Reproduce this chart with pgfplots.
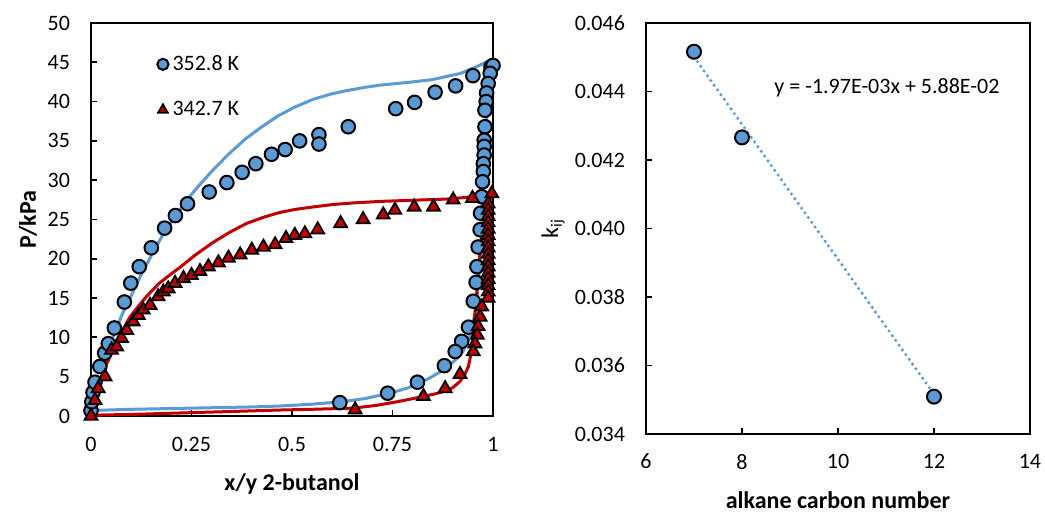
\documentclass[border=0pt]{standalone}
\usepackage{fontspec}
\setmainfont{Carlito}
\usepackage{pgfplots}
\pgfplotsset{compat=1.18}
\definecolor{xlblue}{HTML}{5B9BD5}
\definecolor{xlred}{HTML}{C00000}
\newcommand\fs{\fontsize{11}{13}\selectfont}
\newcommand\fl{\fontsize{12}{14}\selectfont}
\pgfplotsset{
  myaxis/.style={
    scale only axis,
    axis line style={line width=0.9pt},
    tick style={line width=0.9pt, black},
    major tick length=3pt,
    tick align=inside,
    xtick pos=bottom, ytick pos=left,
    tick label style={font=\fs},
    label style={font=\fl},
    clip=false,
  }
}
\begin{document}
\begin{tikzpicture}
\path[use as bounding box] (0,0) rectangle (522.5pt,261.5pt);
% ---------------- left panel ----------------
\begin{axis}[myaxis,
  at={(45.5pt,53.5pt)}, anchor=south west,
  width=201pt, height=196.5pt,
  xmin=0, xmax=1, ymin=0, ymax=50,
  xtick={0,0.25,0.5,0.75,1}, xticklabels={0,0.25,0.5,0.75,1},
  ytick={0,5,10,15,20,25,30,35,40,45,50},
  yticklabels={0,5,10,15,20,25,30,35,40,45,50},
  xticklabel style={yshift=-7pt},
  yticklabel style={xshift=-7pt},
  xlabel={\bfseries x/y 2-butanol},
  ylabel={\bfseries P/kPa},
  xlabel style={at={(axis description cs:0.5,-0.173)}, anchor=center},
  ylabel style={at={(axis description cs:-0.157,0.5)}, anchor=center},
  legend style={at={(axis description cs:0.164,0.929)}, anchor=north west,
    draw=none, fill=none, font=\fs, row sep=10pt, inner sep=0pt,
    nodes={inner sep=2pt}},
  legend cell align=left,
  legend image code/.code={\draw[#1, mark size=2.8pt] plot coordinates {(0.12cm,0cm)};},
]
% model lines (blue, 352.8 K)
\addplot[xlblue, line width=1.5pt, forget plot] coordinates {
(0,0.7) (0.1,0.85) (0.2,0.95) (0.3,1.05) (0.4,1.15) (0.47,1.27) (0.55,1.5)
(0.62,1.8) (0.68,2.2) (0.744,2.9) (0.79,3.6) (0.818,4.2) (0.845,4.9)
(0.868,5.6) (0.89,6.4) (0.91,7.3) (0.925,8.2) (0.935,9.2) (0.947,10.9)
(0.955,13) (0.962,16) (0.968,20) (0.973,25) (0.977,30) (0.981,35)
(0.985,39) (0.99,42.5) (0.995,44.5) (1,45.5)};
\addplot[xlblue, line width=1.5pt, forget plot] coordinates {
(0,0.7) (0.01,2.3) (0.02,4.0) (0.035,6.8) (0.055,10.1) (0.078,13.0)
(0.101,15.4) (0.125,18.0) (0.151,20.5) (0.176,22.8) (0.209,25.4)
(0.242,27.7) (0.27,29.4) (0.3,31.1) (0.342,33.3) (0.383,35.2)
(0.425,36.8) (0.466,38.2) (0.507,39.3) (0.553,40.3) (0.6,41.0)
(0.636,41.4) (0.68,41.8) (0.72,42.1) (0.76,42.3) (0.8,42.5) (0.85,42.8)
(0.885,43.2) (0.92,43.6) (0.943,44.1) (0.97,44.7) (0.993,45.3) (1,45.5)};
% model lines (red, 342.7 K)
\addplot[xlred, line width=1.5pt, forget plot] coordinates {
(0,0.1) (0.1,0.2) (0.2,0.35) (0.3,0.5) (0.4,0.65) (0.47,0.76) (0.55,0.85)
(0.652,1.0) (0.71,1.35) (0.76,1.8) (0.8,2.2) (0.827,2.5) (0.855,2.8)
(0.876,3.1) (0.9,3.6) (0.918,4.4) (0.93,5.3) (0.939,6.3) (0.947,8.4)
(0.951,10.9) (0.957,14) (0.963,18) (0.968,21) (0.975,24) (0.982,26)
(0.99,27.3) (1,28.3)};
\addplot[xlred, line width=1.5pt, forget plot] coordinates {
(0,0.1) (0.01,1.8) (0.022,4.2) (0.035,6.2) (0.055,8.4) (0.075,10.6)
(0.097,12.6) (0.12,14.1) (0.138,15.2) (0.17,16.9) (0.2,18.1) (0.221,18.9)
(0.26,20.5) (0.304,22.1) (0.346,23.4) (0.387,24.5) (0.43,25.3) (0.47,25.9)
(0.51,26.3) (0.553,26.6) (0.6,26.9) (0.65,27.1) (0.719,27.3) (0.8,27.45)
(0.885,27.6) (0.93,27.8) (0.968,28.0) (1.0,28.3)};
% experimental 352.8 K
\addplot[only marks, mark=*, mark size=3.4pt,
  mark options={fill=xlblue, draw=black, line width=1pt}] coordinates {
(0.000,0.7) (0.002,1.8) (0.005,3.0) (0.010,4.3) (0.022,6.3) (0.034,8.0)
(0.043,9.2) (0.058,11.2) (0.083,14.5) (0.099,16.9) (0.120,19.0)
(0.150,21.4) (0.183,23.9) (0.210,25.5) (0.240,27.0) (0.294,28.5)
(0.338,29.7) (0.376,31.0) (0.410,32.1) (0.449,33.3) (0.483,33.9)
(0.519,35.0) (0.567,35.8) (0.567,34.6) (0.640,36.8) (0.758,39.1)
(0.805,39.9) (0.856,41.2) (0.907,42.0) (0.950,43.3) (0.995,44.4)
(1.000,44.6) (0.993,43.6) (0.988,42.3) (0.984,41.1) (0.983,40.0)
(0.980,38.9) (0.980,36.8) (0.978,35.1) (0.978,34.3) (0.978,33.2)
(0.976,32.1) (0.976,31.1) (0.974,29.8) (0.972,27.9) (0.969,25.8)
(0.968,23.7) (0.963,21.5) (0.960,19.0) (0.958,17.0) (0.951,14.6)
(0.939,11.3) (0.922,9.5) (0.906,8.2) (0.879,6.4) (0.812,4.3)
(0.738,2.9) (0.619,1.7)};
\addlegendentry{352.8 K}
% experimental 342.7 K
\addplot[only marks, mark=triangle*, mark size=3.7pt,
  mark options={fill=xlred, draw=black, line width=0.9pt}] coordinates {
(0.000,0.0) (0.010,2.0) (0.018,3.5) (0.035,5.0) (0.051,8.4) (0.064,8.8)
(0.076,9.9) (0.089,10.9) (0.105,12.0) (0.118,12.8) (0.130,13.5)
(0.147,14.1) (0.167,15.2) (0.180,15.8) (0.192,16.2) (0.209,16.9)
(0.230,17.5) (0.250,17.9) (0.271,18.4) (0.292,19.0) (0.317,19.5)
(0.342,20.1) (0.371,20.5) (0.400,21.1) (0.429,21.5) (0.458,21.8)
(0.485,22.6) (0.507,23.0) (0.532,23.2) (0.564,23.7) (0.621,24.5)
(0.677,25.0) (0.727,25.6) (0.756,26.2) (0.804,26.6) (0.852,26.6)
(0.901,27.5) (0.949,27.7) (0.997,28.3)
(0.988,27.0) (0.988,26.2) (0.988,25.4) (0.988,24.6) (0.988,23.8)
(0.988,23.0) (0.988,22.2) (0.988,21.4) (0.988,20.6) (0.988,19.8)
(0.988,19.0) (0.988,18.2) (0.988,17.4) (0.988,16.6) (0.988,15.8)
(0.988,15.0) (0.972,13.9) (0.968,12.6) (0.963,11.4) (0.961,10.3)
(0.955,9.2) (0.951,8.2) (0.918,5.3) (0.881,3.5) (0.827,2.5) (0.657,0.8)};
\addlegendentry{342.7 K}
\end{axis}
% ---------------- right panel ----------------
\begin{axis}[myaxis,
  at={(323pt,44.5pt)}, anchor=south west,
  width=192pt, height=205.5pt,
  xmin=6, xmax=14, ymin=0.034, ymax=0.046,
  xtick={6,8,10,12,14}, xticklabels={6,8,10,12,14},
  ytick={0.034,0.036,0.038,0.040,0.042,0.044,0.046},
  yticklabels={0.034,0.036,0.038,0.040,0.042,0.044,0.046},
  scaled y ticks=false,
  xticklabel style={yshift=-6.5pt},
  yticklabel style={xshift=-7pt},
  xlabel={\bfseries alkane carbon number},
  ylabel={k\textsubscript{ij}},
  xlabel style={at={(axis description cs:0.5,-0.16)}, anchor=center},
  ylabel style={at={(axis description cs:-0.242,0.5)}, anchor=center},
]
\addplot[xlblue, line width=1.7pt, line cap=round,
  dash pattern=on 0pt off 2.9pt] coordinates {(7,0.04501) (12,0.03516)};
\addplot[only marks, mark=*, mark size=3.5pt,
  mark options={fill=xlblue, draw=black, line width=1pt}] coordinates {
(7,0.04516) (8,0.04266) (12,0.03509)};
\node[font=\fs] at (axis cs:11.02,0.0441) {y = -1.97E-03x + 5.88E-02};
\end{axis}
\end{tikzpicture}
\end{document}
